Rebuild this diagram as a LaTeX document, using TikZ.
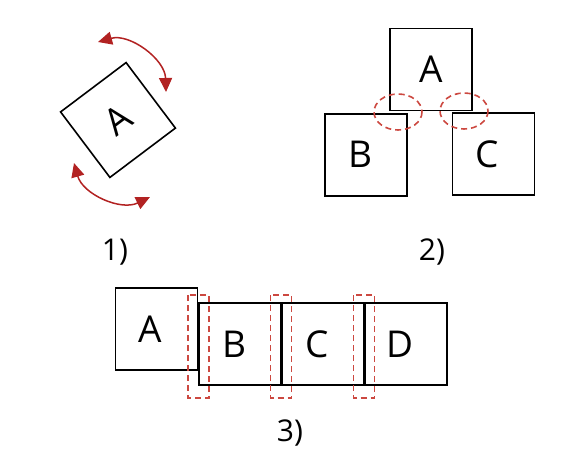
\documentclass[tikz,border=0pt]{standalone}
\usepackage{fontspec}
\setmainfont{Open Sans}
\usetikzlibrary{arrows.meta}
\definecolor{arrowred}{RGB}{178,34,34}
\definecolor{dashred}{RGB}{204,72,64}

\begin{document}
\begin{tikzpicture}[x=1pt,y=-1pt,
    box/.style={draw,line width=1.6pt,minimum size=82pt,inner sep=0pt},
    letter/.style={font=\fontsize{37}{37}\selectfont},
    lbox/.style={box,label={[letter,xshift=-6pt]center:#1}},
    tag/.style={font=\fontsize{30}{30}\selectfont},
    flip/.style={draw=arrowred,line width=1.5pt,{Triangle[length=14pt,width=13pt]}-{Triangle[length=14pt,width=13pt]}},
    joint/.style={draw=dashred,line width=1.6pt,dash pattern=on 6pt off 4pt}]
    \useasboundingbox (0,0) rectangle (564,471);

    % 1) a single block, turned
    \node[box,letter,rotate=37] (a1) at (118,120) {A};
    \coordinate (t1) at (98,42);
    \coordinate (t2) at (166,92);
    \coordinate (u1) at (74,163);
    \coordinate (u2) at (150,197);
    \draw[flip] (t1) to[bend left=52] (t2);
    \draw[flip] (u1) to[bend right=50] (u2);
    \node[tag] (lab1) at (115,252) {1)};

    % 2) A resting on B and C
    \node[box,letter] (a2) at (431,69.5) {A};
    \node[lbox=B] (b2) at (366,154.7) {};
    \node[lbox=C] (c2) at (493.5,154) {};
    \draw[joint] (398,112) ellipse (24 and 18);
    \draw[joint] (464,111) ellipse (24 and 18);
    \node[tag] (lab2) at (432,252) {2)};

    % 3) a row of blocks
    \node[lbox=A] (a3) at (156.5,328.8) {};
    \node[lbox=B] (b3) at (240,344.2) {};
    \node[lbox=C] (c3) at (323,344.2) {};
    \node[lbox=D] (d3) at (406,344.2) {};
    \draw[joint] (188,295) rectangle (209,398);
    \draw[joint] (270.5,295) rectangle (291.5,398);
    \draw[joint] (353.5,295) rectangle (374.5,398);
    \node[tag] (lab3) at (290,433) {3)};
  \end{tikzpicture}
\end{document}
